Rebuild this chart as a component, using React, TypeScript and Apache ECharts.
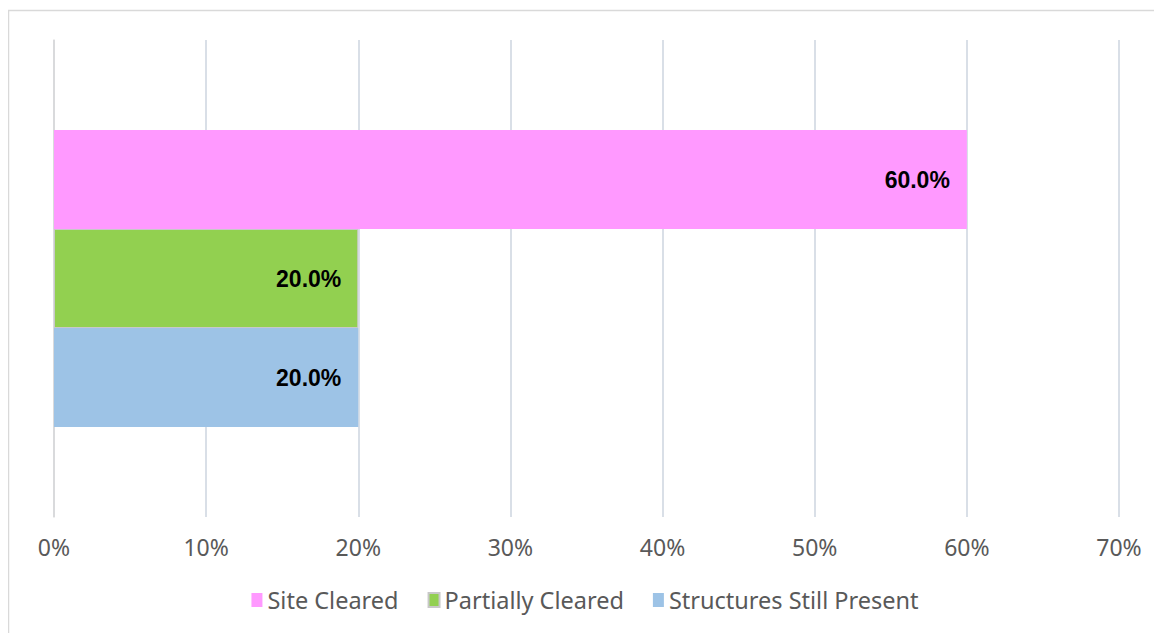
import React, { useEffect, useRef } from "react";
import * as echarts from "echarts";

const categories = ["Status"];
const seriesNames = ["Site Cleared", "Partially Cleared", "Structures Still Present"];
const siteCleared = [60.0];
const partiallyCleared = [20.0];
const structuresStillPresent = [20.0];
const seriesColors = ["#FF99FF", "#92D050", "#9DC3E6"];
const xTicks = [0, 10, 20, 30, 40, 50, 60, 70];

export default function App() {
  const ref = useRef<HTMLDivElement>(null);
  useEffect(() => {
    if (!ref.current) return;
    const chart = echarts.init(ref.current, undefined, { renderer: "svg" });
    const values = [siteCleared, partiallyCleared, structuresStillPresent];
    chart.setOption({
      animation: false,
      graphic: [
        {
          type: "rect",
          shape: { x: 0.5, y: 2.5, width: 1153, height: 640 },
          style: { fill: "none", stroke: "#D9D9D9", lineWidth: 1.5 },
          silent: true,
        },
      ],
      grid: { left: 46, right: 43, top: 32, bottom: 116, containLabel: false },
      legend: {
        data: seriesNames,
        bottom: 16,
        left: "center",
        itemWidth: 11,
        itemHeight: 14,
        itemGap: 29,
        icon: "rect",
        textStyle: { fontFamily: "Noto Sans", fontSize: 23.5, color: "#595959" },
      },
      xAxis: {
        type: "value",
        min: xTicks[0],
        max: xTicks[xTicks.length - 1],
        interval: 10,
        axisLabel: {
          formatter: (v: number) => v + "%",
          fontFamily: "Noto Sans",
          fontSize: 23,
          color: "#595959",
          margin: 18,
        },
        axisLine: { show: false },
        axisTick: { show: false },
        splitLine: { lineStyle: { color: "#CDD5DF", width: 1.5 } },
      },
      yAxis: {
        type: "category",
        data: categories,
        inverse: true,
        axisLabel: { show: false },
        axisTick: { show: false },
        axisLine: { show: true, lineStyle: { color: "#D9D9D9", width: 1.5 } },
      },
      series: seriesNames.map((name, i) => ({
        name,
        type: "bar",
        data: values[i],
        barWidth: 99,
        barGap: "0%",
        itemStyle: {
          color: seriesColors[i],
          borderColor: i === 1 ? "#C8C8C8" : undefined,
          borderWidth: i === 1 ? 1 : 0,
        },
        label: {
          show: true,
          position: "insideRight",
          distance: 17,
          formatter: (p: any) => Number(p.value).toFixed(1) + "%",
          fontFamily: "Liberation Sans",
          fontWeight: "bold",
          fontSize: 23,
          color: "#000000",
        },
      })),
    });
    return () => chart.dispose();
  }, []);
  return <div ref={ref} style={{ width: 1154, height: 625 }} />;
}
